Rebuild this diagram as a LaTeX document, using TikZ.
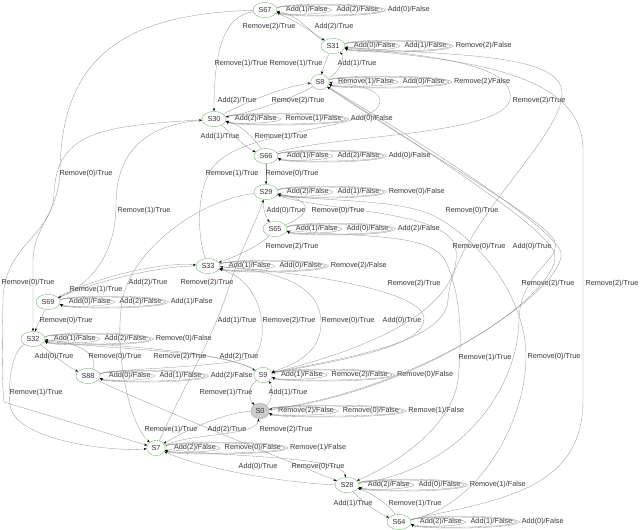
\documentclass[tikz,border=0pt]{standalone}
\usepackage{fontspec}
\setmainfont{Liberation Sans}
\usetikzlibrary{shapes.geometric,positioning,arrows.meta}
\definecolor{stgreen}{RGB}{120,185,120}
\definecolor{edgegray}{RGB}{145,145,145}
\definecolor{txtgray}{RGB}{55,55,55}
\tikzset{
  st/.style={ellipse,draw=stgreen,line width=.4pt,inner xsep=2pt,inner ysep=2.8pt,text=txtgray,font=\fontsize{7.3}{8}\selectfont},
  st0/.style={st,draw=gray!75,fill=gray!40},
  lbl/.style={inner sep=0pt,text=txtgray,font=\fontsize{7.3}{8}\selectfont},
  tr/.style={draw=edgegray,line width=.3pt,-{Stealth[length=3pt,width=2.2pt,color=black]}}
}
\begin{document}
\begin{tikzpicture}[x=1pt,y=-1pt]
\useasboundingbox (0,0) rectangle (640,530);
\node(S67)[st] at (265,10){S67};
\node(S31)[st] at (333,46){S31};
\node(S8)[st] at (320,82){S8};
\node(S30)[st] at (214,119){S30};
\node(S66)[st] at (266,156){S66};
\node(S29)[st] at (266,192){S29};
\node(S65)[st] at (275,229){S65};
\node(S33)[st] at (208,266){S33};
\node(S69)[st] at (48,302){S69};
\node(S32)[st] at (33,339){S32};
\node(S88)[st] at (88,376){S88};
\node(S9)[st] at (263,375){S9};
\node(S0)[st0] at (260,411){S0};
\node(S7)[st] at (156,448){S7};
\node(S28)[st] at (347,485){S28};
\node(S64)[st] at (399,522){S64};

\foreach \n/\a/\b/\c in {S67/Add(1)/Add(2)/Add(0),S31/Add(0)/Add(1)/Remove(2),S8/Remove(1)/Add(0)/Remove(2),S30/Add(2)/Remove(1)/Add(0),S66/Add(1)/Add(2)/Add(0),S29/Add(2)/Add(1)/Remove(0),S65/Add(1)/Add(0)/Add(2),S33/Add(1)/Add(0)/Remove(2),S69/Add(0)/Add(2)/Add(1),S32/Add(1)/Add(2)/Remove(0),S88/Add(0)/Add(1)/Add(2),S9/Add(1)/Remove(2)/Remove(0),S0/Remove(2)/Remove(0)/Remove(1),S7/Add(2)/Remove(0)/Remove(1),S28/Add(2)/Add(0)/Remove(1),S64/Add(2)/Add(1)/Add(0)}{
  \node(\n-1)[lbl,anchor=west] at ([xshift=8.5pt]\n.east){\a/False};
  \node(\n-2)[lbl,right=8.5pt of \n-1]{\b/False};
  \node(\n-3)[lbl,right=9pt of \n-2]{\c/False};
  \draw[tr] ([yshift=2pt]\n.east) .. controls ([xshift=2pt,yshift=5pt]\n.east) and ([yshift=5pt]\n-1.east) .. ([xshift=4pt]\n-1.east) .. controls ([yshift=-5pt]\n-1.east) and ([xshift=5pt,yshift=-5pt]\n.east) .. ([yshift=-2pt]\n.east);
  \draw[tr] ([yshift=2pt]\n.east) .. controls ([xshift=2pt,yshift=6.2pt]\n.east) and ([yshift=6.2pt]\n-2.east) .. ([xshift=4pt]\n-2.east) .. controls ([yshift=-6.2pt]\n-2.east) and ([xshift=5pt,yshift=-6.2pt]\n.east) .. ([yshift=-2pt]\n.east);
  \draw[tr] ([yshift=2pt]\n.east) .. controls ([xshift=2pt,yshift=7.4pt]\n.east) and ([xshift=2pt,yshift=7.4pt]\n-2.east) .. ([xshift=7pt]\n-2.east) .. controls ([xshift=2pt,yshift=-7.4pt]\n-2.east) and ([xshift=5pt,yshift=-7.4pt]\n.east) .. ([yshift=-2pt]\n.east);
}

\draw[tr] (S67) .. controls (292,18) and (312,32) .. (S31) node(e1)[lbl] at (269,27){Remove(2)/True};
\draw[tr] (S31) .. controls (314,36) and (298,14) .. (S67) node(e2)[lbl] at (334,27){Add(2)/True};
\draw[tr] (S67) .. controls (224,16) and (214,50) .. (S30) node(e3)[lbl] at (241,64){Remove(1)/True};
\draw[tr] (S31) .. controls (327,58) and (323,68) .. (S8) node(e4)[lbl] at (296,64){Remove(1)/True};
\draw[tr] (S8) .. controls (338,74) and (346,58) .. (S31) node(e5)[lbl] at (357,64){Add(1)/True};
\draw[tr] (S8) .. controls (298,96) and (254,112) .. (S30) node(e6)[lbl] at (237,101){Add(2)/True};
\draw[tr] (S30) .. controls (246,102) and (286,86) .. (S8) node(e7)[lbl] at (298,101){Remove(2)/True};
\draw[tr] (S66) .. controls (330,135) and (500,136) .. (510,100) .. controls (516,66) and (440,56) .. (S31) node(e8)[lbl] at (539,101){Remove(2)/True};
\draw[tr] (S30) .. controls (230,132) and (246,148) .. (S66) node(e9)[lbl] at (220,137){Add(1)/True};
\draw[tr] (S66) .. controls (254,138) and (240,124) .. (S30) node(e10)[lbl] at (281,137){Remove(1)/True};
\draw[tr] (S30) .. controls (100,126) and (56,132) .. (54,195) .. controls (52,235) and (4,245) .. (3,300) .. controls (2,350) and (2,385) .. (4,402) -- (S7) node(e11)[lbl] at (28,283){Remove(0)/True};
\draw[tr] (S67) .. controls (120,14) and (62,60) .. (60,170) .. controls (59,215) and (33,225) .. (33,262) -- (S32) node(e12)[lbl] at (86,174){Remove(0)/True};
\draw[tr] (S69) .. controls (90,285) and (116,255) .. (116,205) .. controls (116,140) and (160,124) .. (S30) node(e13)[lbl] at (144,211){Remove(1)/True};
\draw[tr] (S66) -- (S29) node(e14)[lbl] at (292,174){Remove(0)/True};
\draw[tr] (S33) .. controls (196,232) and (196,178) .. (220,160) .. controls (258,128) and (378,128) .. (380,102) .. controls (381,88) and (352,84) .. (S8) node(e15)[lbl] at (232,174){Remove(1)/True};
\draw[tr] (S29) .. controls (262,204) and (265,216) .. (S65) node(e16)[lbl] at (286,211){Add(0)/True};
\draw[tr] (S65) .. controls (312,214) and (314,200) .. (S29) node(e17)[lbl] at (338,211){Remove(0)/True};
\draw[tr] (S65) .. controls (262,244) and (238,256) .. (S33) node(e18)[lbl] at (292,247){Remove(2)/True};
\draw[tr] (S33) .. controls (160,266) and (100,280) .. (S69) node(e19)[lbl] at (148,283){Add(2)/True};
\draw[tr] (S69) .. controls (100,276) and (160,262) .. (S33) node(e20)[lbl] at (207,283){Remove(2)/True};
\draw[tr] (S29) .. controls (200,200) and (140,245) .. (125,290) .. controls (112,330) and (125,420) .. (S7) node(e21)[lbl] at (96,290){Remove(1)/True};
\draw[tr] (S69) .. controls (42,318) and (38,322) .. (S32) node(e22)[lbl] at (66,321){Remove(0)/True};
\draw[tr] (S32) .. controls (50,352) and (66,366) .. (S88) node(e23)[lbl] at (54,357){Add(0)/True};
\draw[tr] (S88) .. controls (100,356) and (80,342) .. (S32) node(e24)[lbl] at (115,357){Remove(0)/True};
\draw[tr] (S32) .. controls (110,346) and (220,350) .. (S9) node(e25)[lbl] at (180,357){Remove(2)/True};
\draw[tr] (S9) .. controls (225,350) and (110,350) .. (S32) node(e26)[lbl] at (239,357){Add(2)/True};
\draw[tr] (S88) .. controls (130,367) and (240,368) .. (256,354) .. controls (268,340) and (266,282) .. (S33) node(e27)[lbl] at (289,321){Remove(2)/True};
\draw[tr] (S9) .. controls (330,362) and (426,348) .. (424,318) .. controls (422,290) and (300,272) .. (S33) node(e28)[lbl] at (402,321){Add(0)/True};
\draw[tr] (S33) .. controls (300,272) and (322,296) .. (321,325) .. controls (320,355) and (290,366) .. (S9) node(e29)[lbl] at (348,321){Remove(0)/True};
\draw[tr] (S29) .. controls (330,212) and (440,210) .. (455,245) .. controls (462,275) and (445,330) .. (S9) node(e30)[lbl] at (414,284){Remove(2)/True};
\draw[tr] (S7) .. controls (180,395) and (214,335) .. (228,290) .. controls (238,255) and (255,225) .. (S29) node(e31)[lbl] at (237,321){Add(1)/True};
\draw[tr] (S31) .. controls (450,56) and (565,52) .. (562,95) .. controls (560,140) and (452,230) .. (448,300) .. controls (446,345) and (330,360) .. (S9) node(e32)[lbl] at (472,211){Remove(0)/True};
\draw[tr] (S64) .. controls (500,500) and (583,490) .. (583,400) -- (583,150) .. controls (583,64) and (440,60) .. (S31) node(e33)[lbl] at (612,284){Remove(2)/True};
\draw[tr] (S64) .. controls (480,506) and (526,420) .. (526,357) .. controls (526,290) and (470,232) .. (430,214) .. controls (390,198) and (320,202) .. (S29) node(e34)[lbl] at (554,357){Remove(0)/True};
\draw[tr] (S28) .. controls (460,470) and (518,390) .. (519,320) .. controls (520,272) and (560,262) .. (555,242) .. controls (550,222) and (420,150) .. (S8) node(e35)[lbl] at (548,284){Remove(2)/True};
\draw[tr] (S8) .. controls (430,148) and (545,222) .. (560,250) .. controls (575,278) and (440,385) .. (S0) node(e36)[lbl] at (479,247){Remove(0)/True};
\draw[tr] (S0) .. controls (430,390) and (568,285) .. (554,252) .. controls (542,224) and (425,150) .. (S8) node(e37)[lbl] at (532,247){Add(0)/True};
\draw[tr] (S65) .. controls (360,238) and (432,232) .. (446,262) .. controls (462,298) and (462,340) .. (458,380) .. controls (452,425) and (400,462) .. (S28) node(e38)[lbl] at (485,358){Remove(1)/True};
\draw[tr] (S88) .. controls (150,405) and (270,454) .. (S28) node(e39)[lbl] at (171,430){Remove(1)/True};
\draw[tr] (S32) .. controls (12,352) and (8,380) .. (10,405) .. controls (14,440) and (110,452) .. (S7) node(e40)[lbl] at (36,393){Remove(1)/True};
\draw[tr] (S9) .. controls (248,387) and (248,398) .. (S0) node(e41)[lbl] at (226,393){Remove(1)/True};
\draw[tr] (S0) .. controls (273,400) and (273,386) .. (S9) node(e42)[lbl] at (288,393){Add(1)/True};
\draw[tr] (S0) .. controls (228,412) and (190,428) .. (S7) node(e43)[lbl] at (227,430){Add(2)/True};
\draw[tr] (S7) .. controls (200,432) and (256,436) .. (S0) node(e44)[lbl] at (286,430){Remove(2)/True};
\draw[tr] (S7) .. controls (240,458) and (342,456) .. (S28) node(e45)[lbl] at (258,467){Add(0)/True};
\draw[tr] (S28) .. controls (300,484) and (210,472) .. (S7) node(e46)[lbl] at (318,467){Remove(0)/True};
\draw[tr] (S28) .. controls (358,497) and (372,510) .. (S64) node(e47)[lbl] at (353,504){Add(1)/True};
\draw[tr] (S64) .. controls (392,508) and (375,494) .. (S28) node(e48)[lbl] at (415,504){Remove(1)/True};
\end{tikzpicture}
\end{document}
